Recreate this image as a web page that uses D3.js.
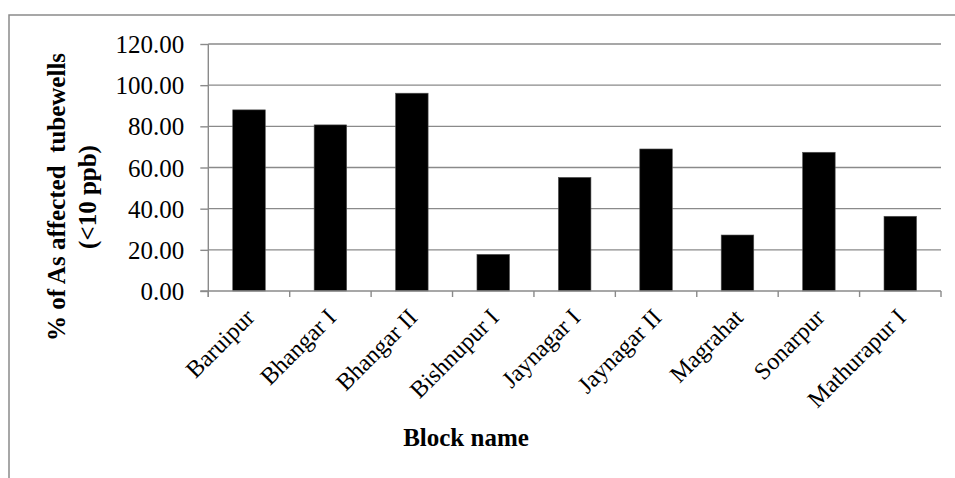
<!DOCTYPE html>
<html>
<head>
<meta charset="utf-8">
<script src="https://cdn.jsdelivr.net/npm/d3@7"></script>
<style>
  html, body { margin: 0; padding: 0; background: #fff; }
  svg { display: block; }
  text { font-family: "Liberation Serif", "Times New Roman", serif; fill: #000; }
</style>
</head>
<body>
<svg id="chart" width="955" height="478"></svg>
<script>
// Share of arsenic-affected tubewells (<10 ppb) per block
const blocks = ["Baruipur", "Bhangar I", "Bhangar II", "Bishnupur I", "Jaynagar I",
                "Jaynagar II", "Magrahat", "Sonarpur", "Mathurapur I"];
const affectedPct = [88.0, 80.7, 96.1, 17.8, 55.2, 69.0, 27.2, 67.4, 36.3];
const yTicks = [0, 20, 40, 60, 80, 100, 120];

const svg = d3.select("#chart");
const W = 955, H = 478;
const plot = { left: 208.3, right: 941, top: 44, bottom: 291 };
const gridColor = "#8a8a8a";

// Chart frame (top and left edges, running off the page)
svg.append("rect")
  .attr("x", 9).attr("y", 15)
  .attr("width", W + 20).attr("height", H + 20)
  .attr("fill", "none").attr("stroke", gridColor).attr("stroke-width", 1.5);

const x = d3.scaleBand().domain(blocks).range([plot.left, plot.right])
  .paddingInner(0.6).paddingOuter(0.3);
const xb = d3.scaleBand().domain(blocks).range([plot.left, plot.right]);
const y = d3.scaleLinear().domain([0, 120]).range([plot.bottom, plot.top]);

// Horizontal gridlines
svg.append("g").selectAll("line").data(yTicks.filter(d => d > 0)).join("line")
  .attr("x1", plot.left).attr("x2", plot.right)
  .attr("y1", d => y(d)).attr("y2", d => y(d))
  .attr("stroke", gridColor).attr("stroke-width", 1.4);

// Y axis
const yAxis = svg.append("g").attr("transform", `translate(${plot.left},0)`)
  .call(d3.axisLeft(y).tickValues(yTicks).tickSize(8).tickPadding(16)
    .tickFormat(d3.format(".2f")));
yAxis.select(".domain").remove();
yAxis.selectAll(".tick line").attr("stroke", gridColor).attr("stroke-width", 1.4);
yAxis.selectAll(".tick text").attr("font-size", 25).attr("dy", "0.34em")
  .style("font-family", "'Liberation Serif', serif");
yAxis.append("line")
  .attr("x1", 0).attr("x2", 0).attr("y1", plot.top).attr("y2", plot.bottom + 6)
  .attr("stroke", gridColor).attr("stroke-width", 1.4);

// Bars
svg.append("g").selectAll("rect").data(blocks).join("rect")
  .attr("x", (d) => x(d))
  .attr("width", x.bandwidth())
  .attr("y", (d, i) => y(affectedPct[i]))
  .attr("height", (d, i) => y(0) - y(affectedPct[i]))
  .attr("fill", "#000")
  .attr("stroke", "#555").attr("stroke-width", 0.6);

// X axis: baseline and boundary ticks
const xAxis = svg.append("g");
xAxis.append("line")
  .attr("x1", plot.left - 8).attr("x2", plot.right)
  .attr("y1", plot.bottom).attr("y2", plot.bottom)
  .attr("stroke", gridColor).attr("stroke-width", 1.4);
const bounds = blocks.map(d => xb(d)).concat([plot.right]);
xAxis.selectAll("line.tk").data(bounds).join("line").attr("class", "tk")
  .attr("x1", d => d).attr("x2", d => d)
  .attr("y1", plot.bottom).attr("y2", plot.bottom + 6)
  .attr("stroke", gridColor).attr("stroke-width", 1.4);

// Rotated category labels
xAxis.selectAll("text").data(blocks).join("text")
  .attr("transform", d => `translate(${xb(d) + xb.bandwidth() / 2 + 1},313) rotate(-45)`)
  .attr("text-anchor", "end").attr("dy", "0.35em")
  .attr("font-size", 24)
  .text(d => d);

// Axis titles
svg.append("text")
  .attr("x", 466).attr("y", 446)
  .attr("text-anchor", "middle").attr("font-size", 25).attr("font-weight", "bold")
  .text("Block name");

const yTitle = svg.append("text")
  .attr("transform", "translate(0,197) rotate(-90)")
  .attr("text-anchor", "middle").attr("font-size", 25).attr("font-weight", "bold")
  .style("white-space", "pre");
yTitle.append("tspan").attr("x", 0).attr("y", 65).text("% of As affected  tubewells");
yTitle.append("tspan").attr("x", 0).attr("y", 96).text("(<10 ppb)");
</script>
</body>
</html>
